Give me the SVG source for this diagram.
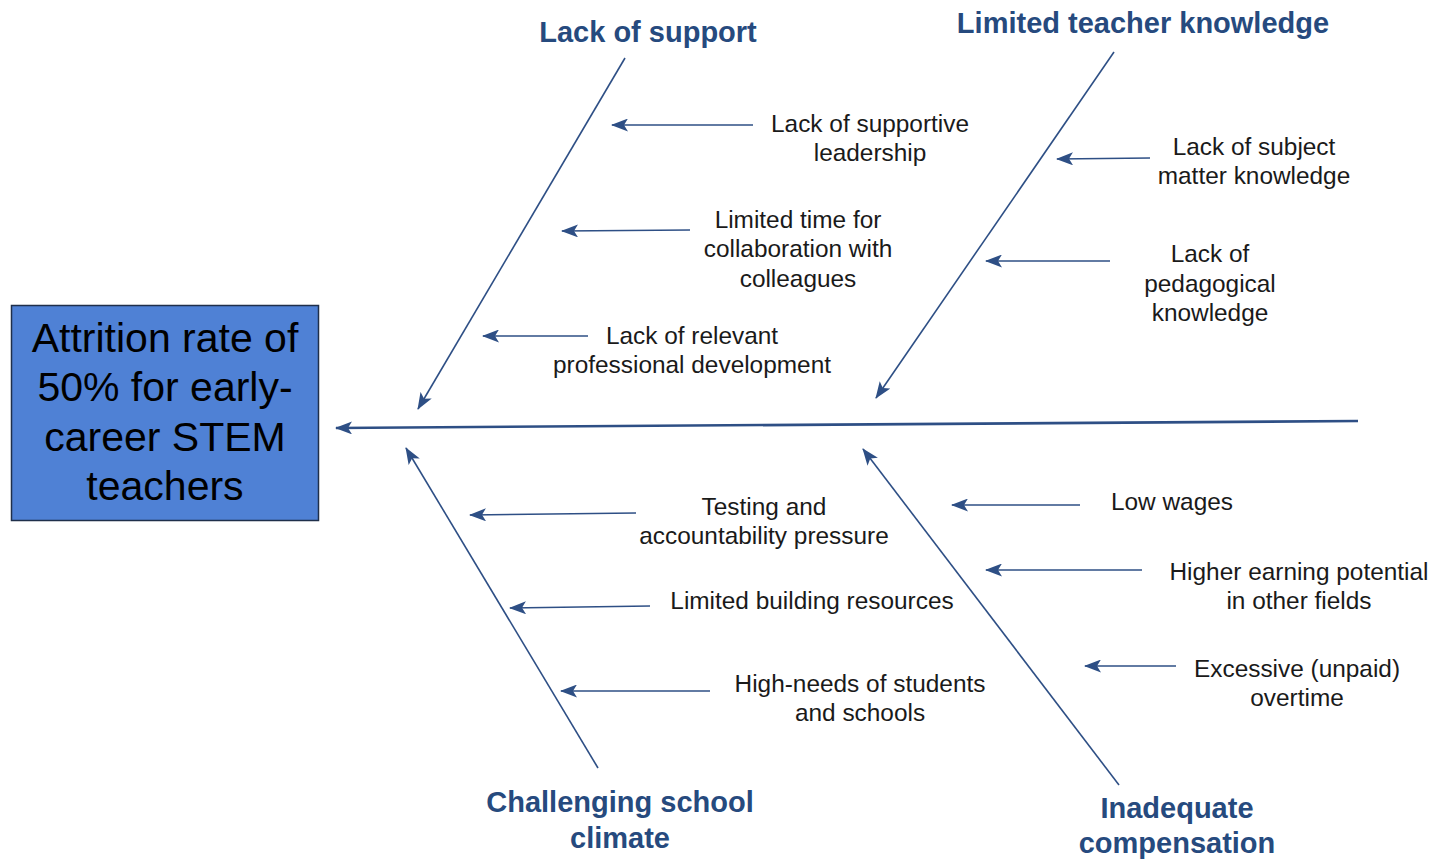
<svg xmlns="http://www.w3.org/2000/svg" width="1433" height="859" viewBox="0 0 1433 859">
  <style>
    .cause { font-family: "Liberation Sans", Arial, sans-serif; font-size: 24.4px; fill: #1a1a1a; text-anchor: middle; }
    .head { font-family: "Liberation Sans", Arial, sans-serif; font-size: 29px; font-weight: bold; fill: #264a7e; text-anchor: middle; }
    .effect { font-family: "Liberation Sans", Arial, sans-serif; font-size: 41px; fill: #000; text-anchor: middle; }
    .bone { stroke: #2e4f85; stroke-width: 1.6; fill: none; }
    .spine { stroke: #2e4f85; stroke-width: 2.6; fill: none; }
  </style>
  <defs>
    <marker id="head" viewBox="0 0 17 13" refX="16" refY="6.5" markerWidth="17" markerHeight="13" markerUnits="userSpaceOnUse" orient="auto">
      <path d="M0,0 L17,6.5 L0,13 L4,6.5 Z" fill="#2e4f85"/>
    </marker>
  </defs>
  <rect width="1433" height="859" fill="#ffffff"/>

  <!-- effect box -->
  <g id="effect">
    <rect x="11.5" y="305.5" width="307" height="215" fill="#4f81d5" stroke="#1f2f4a" stroke-width="1.5"/>
    <text class="effect" x="165" y="352">Attrition rate of</text>
    <text class="effect" x="165" y="401">50% for early-</text>
    <text class="effect" x="165" y="451">career STEM</text>
    <text class="effect" x="165" y="500">teachers</text>
  </g>

  <!-- connectors: spine, category bones, cause arrows -->
  <g id="connectors">
    <path class="spine" d="M1358,421 L336,428" marker-end="url(#head)"/>
    <path class="bone" d="M625,58 L418,409" marker-end="url(#head)"/>
    <path class="bone" d="M1114,52 L876,398" marker-end="url(#head)"/>
    <path class="bone" d="M598,768 L406,448" marker-end="url(#head)"/>
    <path class="bone" d="M1119,785 L863,449" marker-end="url(#head)"/>

    <path class="bone" d="M753,125 L612,125" marker-end="url(#head)"/>
    <path class="bone" d="M690,230 L562,231" marker-end="url(#head)"/>
    <path class="bone" d="M588,336 L483,336" marker-end="url(#head)"/>
    <path class="bone" d="M1150,158 L1057,159" marker-end="url(#head)"/>
    <path class="bone" d="M1110,261 L986,261" marker-end="url(#head)"/>

    <path class="bone" d="M636,513 L470,515" marker-end="url(#head)"/>
    <path class="bone" d="M650,606 L510,608" marker-end="url(#head)"/>
    <path class="bone" d="M710,691 L561,691" marker-end="url(#head)"/>
    <path class="bone" d="M1080,505 L952,505" marker-end="url(#head)"/>
    <path class="bone" d="M1142,570 L986,570" marker-end="url(#head)"/>
    <path class="bone" d="M1176,666 L1085,666" marker-end="url(#head)"/>
  </g>

  <!-- category headings -->
  <g id="cat-support">
    <text class="head" x="648" y="42">Lack of support</text>
  </g>
  <g id="cat-knowledge">
    <text class="head" x="1143" y="33">Limited teacher knowledge</text>
  </g>
  <g id="cat-climate">
    <text class="head" x="620" y="812">Challenging school</text>
    <text class="head" x="620" y="848">climate</text>
  </g>
  <g id="cat-compensation">
    <text class="head" x="1177" y="818">Inadequate</text>
    <text class="head" x="1177" y="853">compensation</text>
  </g>

  <!-- causes -->
  <g id="cause-leadership">
    <text class="cause" x="870" y="132">Lack of supportive</text>
    <text class="cause" x="870" y="161">leadership</text>
  </g>
  <g id="cause-collaboration">
    <text class="cause" x="798" y="228">Limited time for</text>
    <text class="cause" x="798" y="257">collaboration with</text>
    <text class="cause" x="798" y="287">colleagues</text>
  </g>
  <g id="cause-pd">
    <text class="cause" x="692" y="344">Lack of relevant</text>
    <text class="cause" x="692" y="373">professional development</text>
  </g>
  <g id="cause-subject">
    <text class="cause" x="1254" y="155">Lack of subject</text>
    <text class="cause" x="1254" y="184">matter knowledge</text>
  </g>
  <g id="cause-pedagogy">
    <text class="cause" x="1210" y="262">Lack of</text>
    <text class="cause" x="1210" y="292">pedagogical</text>
    <text class="cause" x="1210" y="321">knowledge</text>
  </g>
  <g id="cause-testing">
    <text class="cause" x="764" y="515">Testing and</text>
    <text class="cause" x="764" y="544">accountability pressure</text>
  </g>
  <g id="cause-resources">
    <text class="cause" x="812" y="609">Limited building resources</text>
  </g>
  <g id="cause-needs">
    <text class="cause" x="860" y="692">High-needs of students</text>
    <text class="cause" x="860" y="721">and schools</text>
  </g>
  <g id="cause-wages">
    <text class="cause" x="1172" y="510">Low wages</text>
  </g>
  <g id="cause-earning">
    <text class="cause" x="1299" y="580">Higher earning potential</text>
    <text class="cause" x="1299" y="609">in other fields</text>
  </g>
  <g id="cause-overtime">
    <text class="cause" x="1297" y="677">Excessive (unpaid)</text>
    <text class="cause" x="1297" y="706">overtime</text>
  </g>
</svg>
